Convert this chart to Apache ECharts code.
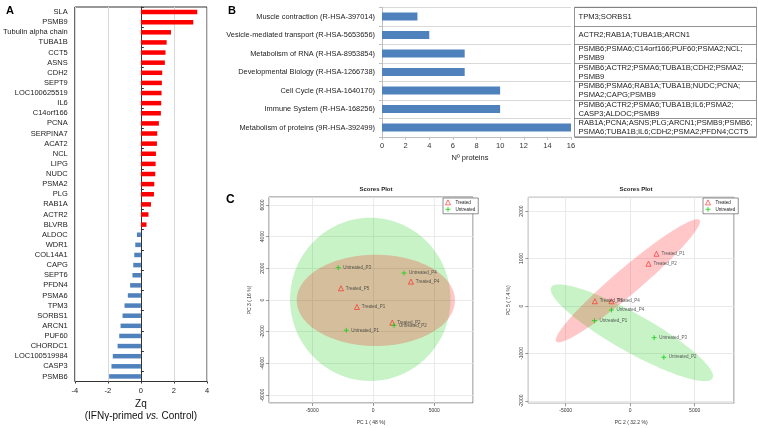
<!DOCTYPE html>
<html><head><meta charset="utf-8">
<script src="https://cdn.jsdelivr.net/npm/echarts@6/dist/echarts.min.js"></script>
<style>html,body{margin:0;padding:0;background:#fff}#c{width:758px;height:428px}</style>
</head><body><div id="c"></div>
<script>
// ---- Panel A data ----
const geneNames = ['SLA','PSMB9','Tubulin alpha chain','TUBA1B','CCT5','ASNS','CDH2','SEPT9','LOC100625519','IL6','C14orf166','PCNA','SERPINA7','ACAT2','NCL','LIPG','NUDC','PSMA2','PLG','RAB1A','ACTR2','BLVRB','ALDOC','WDR1','COL14A1','CAPG','SEPT6','PFDN4','PSMA6','TPM3','SORBS1','ARCN1','PUF60','CHORDC1','LOC100519984','CASP3','PSMB6'];
const zqValues = [3.41,3.17,1.82,1.56,1.49,1.45,1.29,1.27,1.25,1.23,1.21,1.09,0.99,0.97,0.91,0.89,0.87,0.81,0.79,0.61,0.46,0.34,-0.24,-0.34,-0.40,-0.46,-0.51,-0.65,-0.79,-0.99,-1.11,-1.23,-1.31,-1.41,-1.70,-1.78,-1.92];
const zqTicks = [-4,-2,0,2,4];

// ---- Panel B data ----
const pathwayNames = ['Muscle contraction (R-HSA-397014)','Vesicle-mediated transport (R-HSA-5653656)','Metabolism of RNA (R-HSA-8953854)','Developmental Biology (R-HSA-1266738)','Cell Cycle (R-HSA-1640170)','Immune System (R-HSA-168256)','Metabolism of proteins (9R-HSA-392499)'];
const pathwayCounts = [3,4,7,7,10,10,16];
const pathwayGenes = [
  'TPM3;SORBS1',
  'ACTR2;RAB1A;TUBA1B;ARCN1',
  'PSMB6;PSMA6;C14orf166;PUF60;PSMA2;NCL;\nPSMB9',
  'PSMB6;ACTR2;PSMA6;TUBA1B;CDH2;PSMA2;\nPSMB9',
  'PSMB6;PSMA6;RAB1A;TUBA1B;NUDC;PCNA;\nPSMA2;CAPG;PSMB9',
  'PSMB6;ACTR2;PSMA6;TUBA1B;IL6;PSMA2;\nCASP3;ALDOC;PSMB9',
  'RAB1A;PCNA;ASNS;PLG;ARCN1;PSMB9;PSMB6;\nPSMA6;TUBA1B;IL6;CDH2;PSMA2;PFDN4;CCT5'
];

// ---- Panel C data (PC1 vs PC3) ----
const pc13Treated = [[3090,1160,'Treated_P4'],[-2650,740,'Treated_P5'],[-1340,-440,'Treated_P1'],[1560,-1430,'Treated_P2']];
const pc13Untreated = [[-2870,2040,'Untreated_P3'],[2520,1700,'Untreated_P4'],[1700,-1600,'Untreated_P2'],[-2210,-1910,'Untreated_P1']];
// ellipse: centre x, centre y, semi-axis 1 (x,y), semi-axis 2 (x,y)
const pc13EllipseTreated = [[210,-20,6490,0,0,2880]];
const pc13EllipseUntreated = [[-245,40,6580,0,0,5150]];

// ---- Panel C data (PC2 vs PC5) ----
const pc25Treated = [[2040,1100,'Treated_P1'],[1420,890,'Treated_P2'],[-2740,100,'Treated_P5'],[-1450,100,'Treated_P4']];
const pc25Untreated = [[-1450,-84,'Untreated_P4'],[-2770,-309,'Untreated_P1'],[1860,-667,'Untreated_P3'],[2610,-1080,'Untreated_P2']];
const pc25EllipseTreated = [[-178,531,5554,1281,653,-209]];
const pc25EllipseUntreated = [[130,-564,6252,-958,-723,-348]];

const FONT = 'Liberation Sans, Arial, sans-serif';
const RED = '#ff0000', BLUE = '#4f81bd';
const TRI_STYLE = {color:'rgba(0,0,0,0)', borderColor:'#ff2020', borderWidth:0.8};
const PLUS_STYLE = {color:'rgba(0,0,0,0)', borderColor:'#10d010', borderWidth:1};

function ellipseRender(fill){
  return function(params, api){
    const cx=api.value(0), cy=api.value(1), ax=api.value(2), ay=api.value(3), bx=api.value(4), by=api.value(5);
    const pts=[];
    for(let k=0;k<120;k++){
      const t=k/120*2*Math.PI, c=Math.cos(t), s=Math.sin(t);
      pts.push(api.coord([cx+ax*c+bx*s, cy+ay*c+by*s]));
    }
    return {type:'polygon', shape:{points:pts}, style:{fill:fill}, silent:true};
  };
}
function ellipseSeries(data, fill, xi, yi){
  return {type:'custom', xAxisIndex:xi, yAxisIndex:yi, data:data, encode:{x:0,y:1},
    renderItem:ellipseRender(fill), silent:true, z:1, clip:true};
}
const plusPath = 'path://M5,0 L5,10 M0,5 L10,5';
function pointSeries(name, data, xi, yi){
  const treated = name==='Treated';
  return {type:'scatter', name:name, xAxisIndex:xi, yAxisIndex:yi, data:data, z:5,
    symbol: treated ? 'triangle' : plusPath, symbolSize: 5,
    itemStyle: treated ? TRI_STYLE : PLUS_STYLE,
    label:{show:true, position:'right', distance:2, fontSize:4.5, color:'#333', formatter:p=>p.value[2]}};
}
function scatterX(gi, min, max, name){
  return {type:'value', gridIndex:gi, min:min, max:max, splitNumber:3, name:name,
    nameLocation:'middle', nameGap:17, nameTextStyle:{fontSize:5, color:'#333'},
    axisLine:{show:false, onZero:false}, axisTick:{show:true, length:3, lineStyle:{color:'#555', width:0.6}},
    axisLabel:{fontSize:5, color:'#333', margin:5, showMinLabel:false, showMaxLabel:false, formatter:v=>String(v)},
    splitLine:{show:true, lineStyle:{color:'#e4e4e4', width:0.8}}};
}
function scatterY(gi, min, max, split, name){
  return {type:'value', gridIndex:gi, min:min, max:max, splitNumber:split, name:name,
    nameLocation:'middle', nameGap:17, nameRotate:90, nameTextStyle:{fontSize:5, color:'#333'},
    axisLine:{show:false, onZero:false}, axisTick:{show:true, length:3, lineStyle:{color:'#555', width:0.6}},
    axisLabel:{fontSize:5, color:'#333', margin:4, rotate:90, showMinLabel:false, showMaxLabel:false, formatter:v=>String(v)},
    splitLine:{show:true, lineStyle:{color:'#e4e4e4', width:0.8}}};
}
function legendAt(left){
  return {data:[{name:'Treated', icon:'triangle', itemStyle:TRI_STYLE},{name:'Untreated', icon:plusPath, itemStyle:PLUS_STYLE}],
    left:left, top:198, orient:'vertical', itemGap:1, itemWidth:5, itemHeight:5,
    padding:[1.5,3,1.5,2], borderColor:'#444', borderWidth:0.6, backgroundColor:'#fff', selectedMode:false,
    textStyle:{fontSize:4.5, color:'#222'}};
}

const chart = echarts.init(document.getElementById('c'), null, {renderer:'canvas'});
const option = {
  animation:false,
  textStyle:{fontFamily:FONT},
  title:[
    {text:'A', left:1, top:0, textStyle:{fontSize:11, fontWeight:'bold', color:'#000', fontFamily:FONT}},
    {text:'B', left:223, top:0, textStyle:{fontSize:11, fontWeight:'bold', color:'#000', fontFamily:FONT}},
    {text:'C', left:221, top:189, textStyle:{fontSize:12, fontWeight:'bold', color:'#000', fontFamily:FONT}},
    {text:'Scores Plot', left:371, top:181, textAlign:'center', textStyle:{fontSize:6, fontWeight:'bold', color:'#222', fontFamily:FONT}},
    {text:'Scores Plot', left:631, top:181, textAlign:'center', textStyle:{fontSize:6, fontWeight:'bold', color:'#222', fontFamily:FONT}},
    {text:'Nº proteins', left:465, top:149, textAlign:'center', textStyle:{fontSize:7.5, fontWeight:'normal', color:'#222', fontFamily:FONT}}
  ],
  legend:[legendAt(443), legendAt(703)],
  grid:[
    {left:72.7, top:7, width:134.3, height:374.5, show:true, borderColor:'#333', borderWidth:1, backgroundColor:'transparent'},
    {left:382, top:7.3, width:189, height:129.5, show:false},
    {left:574.5, top:7.3, width:182, height:129.5, show:true, borderColor:'#777', borderWidth:0.8},
    {left:269, top:197, width:204, height:206, show:true, borderColor:'#555', borderWidth:0.8},
    {left:528.3, top:197.3, width:205.7, height:206, show:true, borderColor:'#555', borderWidth:0.8}
  ],
  xAxis:[
    {type:'value', gridIndex:0, min:zqTicks[0], max:zqTicks[zqTicks.length-1], interval:2,
     axisLine:{show:false}, axisTick:{show:true, length:2, lineStyle:{color:'#333'}},
     axisLabel:{fontSize:7.5, color:'#222', margin:5},
     splitLine:{show:true, lineStyle:{color:'#d9d9d9', width:1}},
     name:'{a|Zq}\n{b|(IFNγ-primed }{c|vs.}{b| Control)}', nameLocation:'middle', nameGap:14,
     nameTextStyle:{rich:{a:{fontSize:10, lineHeight:11.5, color:'#111', fontFamily:FONT},
                          b:{fontSize:10, lineHeight:11.5, color:'#111', fontFamily:FONT},
                          c:{fontSize:10, lineHeight:11.5, color:'#111', fontStyle:'italic', fontFamily:FONT}}}},
    {type:'value', gridIndex:1, min:0, max:16, interval:2,
     axisLine:{show:true, onZero:false, lineStyle:{color:'#bfbfbf'}}, axisTick:{show:true, length:3, lineStyle:{color:'#bfbfbf'}},
     axisLabel:{fontSize:7.5, color:'#333', margin:5}, splitLine:{show:false}},
    {type:'value', gridIndex:2, min:0, max:1, show:false},
    scatterX(3, -8550, 8180, 'PC 1 ( 48 %)'),
    scatterX(4, -7900, 8050, 'PC 2 ( 32.2 %)')
  ],
  yAxis:[
    {type:'category', gridIndex:0, data:geneNames, inverse:true,
     axisLine:{show:false, onZero:false}, axisTick:{show:false},
     axisLabel:{fontSize:7.5, color:'#222', margin:7, interval:0}},
    {type:'category', gridIndex:0, data:geneNames, inverse:true,
     axisLine:{show:true, onZero:true, lineStyle:{color:'#333', width:1}},
     axisTick:{show:true, length:3, lineStyle:{color:'#333'}}, axisLabel:{show:false}},
    {type:'category', gridIndex:1, data:pathwayNames, inverse:true,
     axisLine:{show:true, onZero:false, lineStyle:{color:'#bfbfbf'}}, axisTick:{show:true, length:3, lineStyle:{color:'#bfbfbf'}},
     axisLabel:{fontSize:7.4, color:'#222', margin:7, interval:0},
     splitLine:{show:true, lineStyle:{color:'#d9d9d9', width:1}}},
    {type:'category', gridIndex:2, data:pathwayGenes, inverse:true,
     axisLine:{show:false, onZero:false}, axisTick:{show:false},
     axisLabel:{inside:true, align:'left', margin:4, fontSize:7.6, lineHeight:9, color:'#222', interval:0},
     splitLine:{show:true, lineStyle:{color:'#777', width:0.8}}},
    scatterY(3, -6500, 6500, 6, 'PC 3 ( 16 %)'),
    scatterY(4, -2050, 2290, 4, 'PC 5 ( 7.4 %)')
  ],
  series:[
    {type:'bar', xAxisIndex:0, yAxisIndex:0, data:zqValues, barWidth:4.5,
     itemStyle:{color:p=>p.value>=0?RED:BLUE}},
    {type:'bar', xAxisIndex:1, yAxisIndex:2, data:pathwayCounts, barWidth:8, itemStyle:{color:BLUE}},
    ellipseSeries(pc13EllipseUntreated, 'rgba(0,200,0,0.22)', 3, 4),
    ellipseSeries(pc13EllipseTreated, 'rgba(255,0,0,0.22)', 3, 4),
    pointSeries('Treated', pc13Treated, 3, 4),
    pointSeries('Untreated', pc13Untreated, 3, 4),
    ellipseSeries(pc25EllipseUntreated, 'rgba(0,200,0,0.22)', 4, 5),
    ellipseSeries(pc25EllipseTreated, 'rgba(255,0,0,0.22)', 4, 5),
    pointSeries('Treated', pc25Treated, 4, 5),
    pointSeries('Untreated', pc25Untreated, 4, 5)
  ]
};
chart.setOption(option);
</script>
</body></html>
